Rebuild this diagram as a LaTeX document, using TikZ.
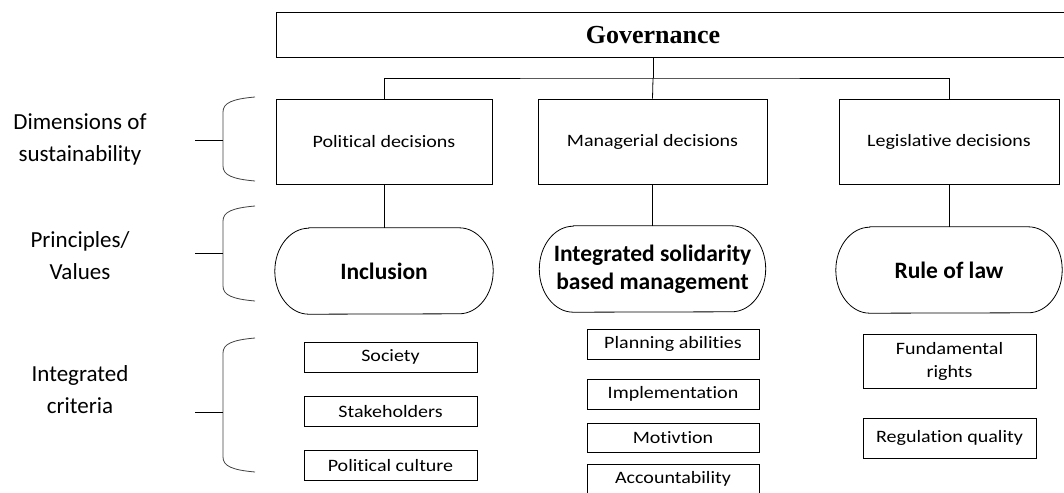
\documentclass[tikz,border=0pt]{standalone}
\usepackage{fontspec}
\setmainfont[Ligatures=NoCommon]{Carlito}
\newfontfamily\widefont[FakeStretch=1.15,Ligatures=NoCommon]{Carlito}
\newfontfamily\govfont{Liberation Serif}
\usetikzlibrary{positioning}

\tikzset{
  box/.style={draw, line width=0.8pt, align=center, inner sep=0pt},
  decbox/.style={box, minimum width=216pt, minimum height=85pt, font=\fontsize{17.4}{21}\widefont},
  critbox/.style={box, minimum width=173pt, minimum height=30pt, font=\fontsize{17.4}{21}\widefont},
  pill/.style={align=center, inner sep=0pt, minimum width=220pt, minimum height=86pt, font=\fontsize{23.5}{28}\selectfont\bfseries},
  levellabel/.style={align=center, font=\fontsize{23}{32}\selectfont},
  brace/.style={draw=black!75, line width=0.8pt},
  link/.style={line width=0.8pt}
}

\begin{document}
\begin{tikzpicture}[x=1pt,y=-1pt]
\useasboundingbox (0,0) rectangle (1064,492);

% top box
\node[box, minimum width=804pt, minimum height=45pt, anchor=north west] (gov) at (276,12) {};
\node[font=\fontsize{26}{30}\selectfont\govfont\bfseries] (govtext) at (653,35) {Governance};
\coordinate (split) at (653,78);

% three kinds of decisions
\node[decbox] (pol) at (384,141.5) {Political decisions};
\node[decbox, minimum width=229pt] (man) at (652.5,141.5) {Managerial decisions};
\node[decbox, minimum width=220pt] (leg) at (949,141.5) {Legislative decisions};

\draw[link] (gov.south -| split) -- (split);
\draw[link] (pol.north) |- (split) -| (leg.north);
\draw[link] (split) -- (man.north);

% principles
\node[pill, minimum width=218pt] (incl) at (384,271) {Inclusion};
\node[pill, minimum width=226pt] (isbm) at (652.5,269) {Integrated solidarity\\based management};
\node[pill, minimum width=226pt] (rol) at (949,270) {Rule of law};
\foreach \n in {incl,isbm,rol}
  \draw[link] ([xshift=34pt]\n.north west) -- ([xshift=-34pt]\n.north east)
    arc[start angle=90, end angle=-90, x radius=34pt, y radius=43pt]
    -- ([xshift=34pt]\n.south west)
    arc[start angle=270, end angle=90, x radius=34pt, y radius=43pt] -- cycle;

\draw[link] (pol) -- (incl);
\draw[link] (man) -- (isbm);
\draw[link] (leg) -- (rol);

% criteria
\node[critbox] (soc) at (390.5,357) {Society};
\node[critbox] (stake) at (390.5,411.5) {Stakeholders};
\node[critbox] (cult) at (390.5,465.5) {Political culture};

\node[critbox, minimum width=172pt] (plan) at (673,344) {Planning abilities};
\node[critbox, minimum width=172pt] (impl) at (673,394) {Implementation};
\node[critbox, minimum width=172pt, minimum height=29pt] (motiv) at (673,437.5) {Motivtion};
\node[critbox, minimum width=172pt] (acc) at (673,479) {Accountability};

\node[critbox, minimum height=54pt, font=\fontsize{17.4}{23}\widefont] (fund) at (949.5,361) {Fundamental\\rights};
\node[critbox, minimum height=40pt] (regq) at (949.5,438) {Regulation quality};

% level labels with their braces
\node[levellabel] (dim) at (80,139) {Dimensions of\\sustainability};
\node[levellabel] (prin) at (80,256) {Principles/\\Values};
\node[levellabel] (crit) at (80,390) {Integrated\\criteria};

\draw[brace] (255,97) .. controls (232,99) and (223,103) .. (223,112) -- (223,166)
  .. controls (223,175) and (232,179) .. (255,181);
\draw[brace] (255,206) .. controls (232,208) and (223,212) .. (223,221) -- (223,286)
  .. controls (223,295) and (232,299) .. (255,301);
\draw[brace] (255,338) .. controls (232,340) and (223,344) .. (223,353) -- (223,457)
  .. controls (223,466) and (232,470) .. (255,472);

\draw[link] (195,140) -- (223,140);
\draw[link] (195,253) -- (223,253);
\draw[link] (195,412) -- (223,412);
\end{tikzpicture}
\end{document}
